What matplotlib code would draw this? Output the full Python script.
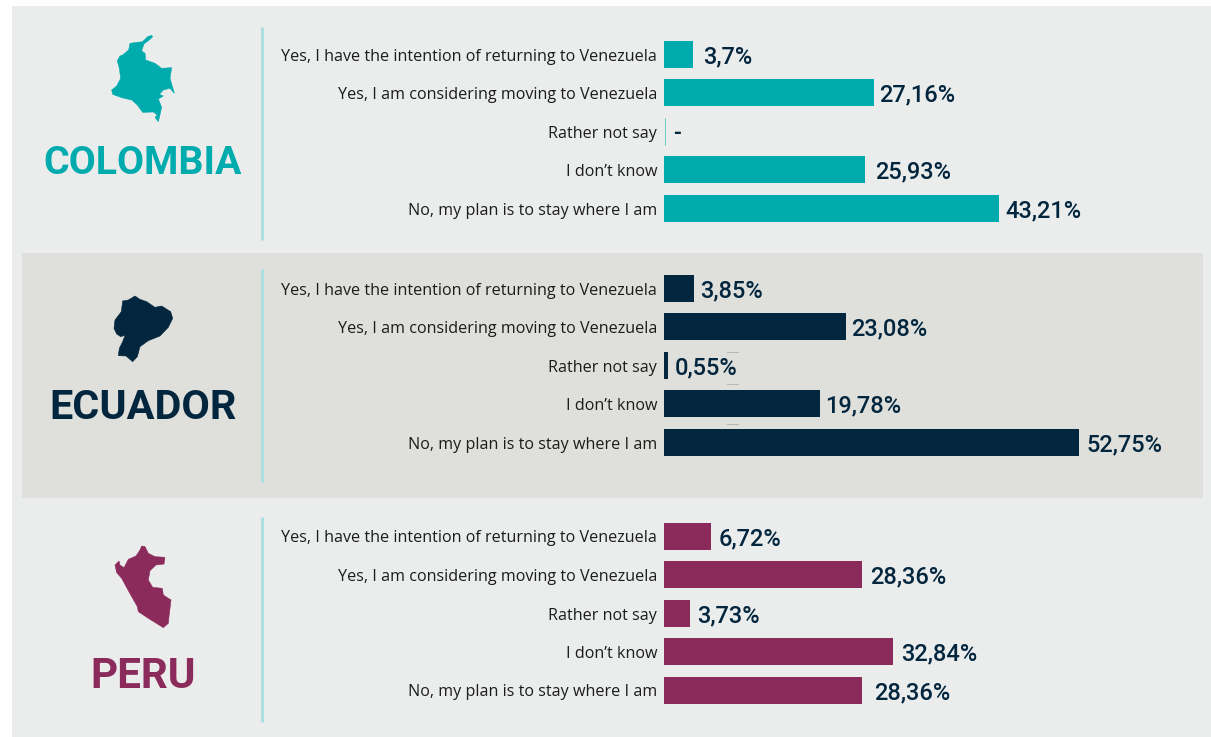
import matplotlib
matplotlib.use("Agg")
import matplotlib.pyplot as plt
from matplotlib.patches import Rectangle, Polygon

W, H = 1211, 737
categories = ["Yes, I have the intention of returning to Venezuela",
              "Yes, I am considering moving to Venezuela",
              "Rather not say", "I don't know",
              "No, my plan is to stay where I am"]
categories = [c.replace("'", "\u2019") for c in categories]
countries = ["COLOMBIA", "ECUADOR", "PERU"]
colombia = [3.7, 27.16, 0, 25.93, 43.21]
ecuador = [3.85, 23.08, 0.55, 19.78, 52.75]
peru = [6.72, 28.36, 3.73, 32.84, 28.36]
colombia_labels = ["3,7%", "27,16%", "-", "25,93%", "43,21%"]
ecuador_labels = ["3,85%", "23,08%", "0,55%", "19,78%", "52,75%"]
peru_labels = ["6,72%", "28,36%", "3,73%", "32,84%", "28,36%"]

colors = ["#00abae", "#03263f", "#8a2b5c"]
BG = "#ebeded"; BAND = "#dfe0db"; RULE = "#aedfe0"; TXT = "#03263f"

# layout in pixels
panels = [dict(vals=colombia, labs=colombia_labels, first=54, last=208, scale=7.75,
               rule=(27, 240), title_y=159, title_size=28.3, gaps=[10, 5, 9, 10, 6]),
          dict(vals=ecuador, labs=ecuador_labels, first=288, last=442, scale=7.87,
               rule=(269, 482), title_y=404, title_size=29.8, gaps=[6, 5, 6, 5, 7]),
          dict(vals=peru, labs=peru_labels, first=536, last=690, scale=6.975,
               rule=(517, 722), title_y=672, title_size=30.3, gaps=[8, 8, 7, 8, 12])]

# decorative silhouettes, pixel outlines
shape_colombia = [(455,106),(443,110),(428,125),(405,128),(390,130),(386,150),(368,165),(360,168),(352,182),(358,205),(362,235),(350,258),(335,270),(338,283),(365,293),(395,300),(412,315),(428,337),(460,336),(472,345),(465,352),(475,365),(485,322),(475,297),(490,288),(478,283),(490,270),(510,265),(523,280),(518,262),(510,235),(515,203),(485,205),(465,190),(437,180),(435,160),(425,152),(432,132),(450,118),(458,110)]
shape_ecuador = [(405,138),(385,150),(368,153),(364,185),(345,210),(342,235),(350,252),(362,260),(375,256),(368,275),(358,295),(355,317),(378,318),(398,335),(412,320),(420,290),(445,272),(480,258),(505,232),(518,205),(512,185),(485,168),(465,172),(440,155),(420,148)]
shape_peru = [(425,138),(420,150),(408,168),(385,178),(372,203),(360,195),(357,183),(345,195),(350,218),(365,235),(385,272),(412,320),(415,335),(445,355),(490,383),(505,370),(507,350),(513,300),(490,285),(487,265),(458,262),(445,240),(450,212),(468,195),(492,192),(495,172),(465,170),(445,160),(435,140)]
shapes = [(shape_colombia, 0), (shape_ecuador, 250), (shape_peru, 500)]

fig = plt.figure(figsize=(W/100, H/100), dpi=100, facecolor="white")
bg = fig.add_axes([0, 0, 1, 1])
bg.set_xlim(0, W); bg.set_ylim(H, 0); bg.axis("off")
bg.add_patch(Rectangle((12, 6), W-12, H-6, fc=BG, ec="none"))
bg.add_patch(Rectangle((22, 253), 1181, 245, fc=BAND, ec="none"))

X0 = 664
for i, p in enumerate(panels):
    c = colors[i]
    bg.plot([262, 262], p["rule"], color=RULE, lw=2.2, solid_capstyle="butt")
    outline, dy = shapes[i]
    bg.add_patch(Polygon([(x/3, y/3 + dy) for x, y in outline], closed=True, fc=c, ec=c, lw=0.4))
    bg.text(143, p["title_y"], countries[i], color=c, family="Roboto", weight="bold",
            fontsize=p["title_size"], ha="center", va="center_baseline")
    step = (p["last"] - p["first"]) / 4
    top = p["first"] - step/2
    height = step * 5
    width = W - X0
    ax = fig.add_axes([X0/W, 1 - (top+height)/H, width/W, height/H], facecolor="none")
    ax.set_xlim(0, width / p["scale"])
    ax.set_ylim(4.5, -0.5)
    ax.axis("off")
    ax.barh(range(5), p["vals"], height=27/step, color=c)
    for k, (v, lab, gap) in enumerate(zip(p["vals"], p["labs"], p["gaps"])):
        ax.annotate(lab, (v, k), xytext=(gap*0.72, 0), textcoords="offset points",
                    ha="left", va="center_baseline", color=TXT, family="Roboto",
                    weight="medium", fontsize=17)
        bg.text(657, p["first"] + k*step + 0.5, categories[k], ha="right", va="center_baseline",
                color="#1c1c1c", family="Open Sans", fontsize=11.65)

# hairline on the empty Colombia bar and stray marks around 0,55%
bg.plot([664.5, 664.5], [118, 145], color=colors[0], lw=0.6, alpha=0.6)
for yy in (351.5, 383.5, 423.5):
    bg.plot([727, 738], [yy, yy], color="#b5b7b5", lw=0.7)

fig.savefig("out.png", dpi=100, facecolor="white")
